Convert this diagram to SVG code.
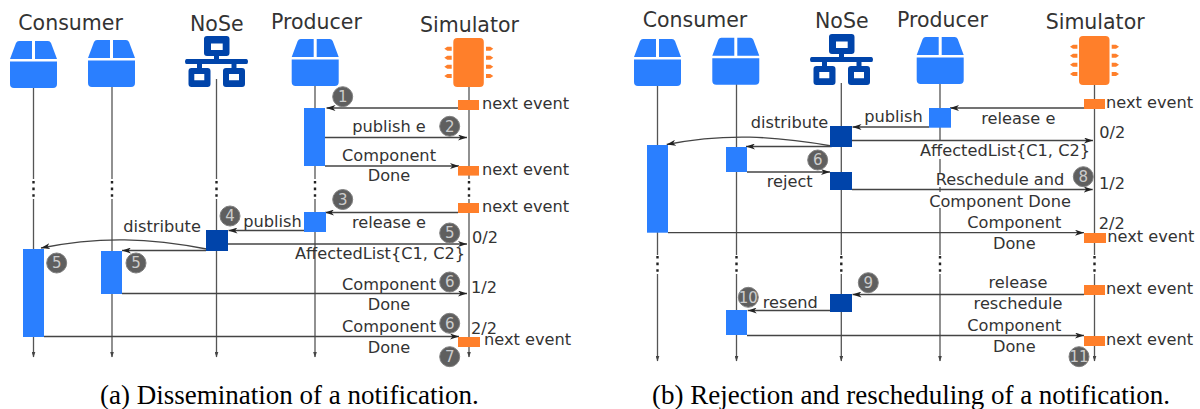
<svg xmlns="http://www.w3.org/2000/svg" width="1200" height="409" viewBox="0 0 1200 409">
<style>
text{font-family:"DejaVu Sans",sans-serif;fill:#333}
.h{font-size:20.5px}
.l{font-size:16.2px}
.m{text-anchor:middle}
.cap{font-family:"Liberation Serif",serif;font-size:27px;fill:#000}
.ln{fill:none;stroke:#444;stroke-width:1.3}
.ll{fill:none;stroke:#555;stroke-width:1.3}
.end{marker-end:url(#tip)}
.arr{marker-end:url(#head)}
.dot{stroke:#222;stroke-width:2.4;stroke-dasharray:2.6 4;fill:none}
.blue{fill:#2a7fff}
.navy{fill:#0044aa}
.org{fill:#ff7f2a}
.b circle{fill:#5f5f5f;stroke:#808080;stroke-width:1}
.b text{font-size:15px;fill:#ccc;text-anchor:middle}
</style>
<defs>
<marker id="head" markerUnits="userSpaceOnUse" viewBox="0 0 9 6" refX="9" refY="3" markerWidth="9" markerHeight="6" orient="auto"><path d="M9 3L0 0L2.500 3L0 6Z" fill="#222"/></marker>
<marker id="tip" markerUnits="userSpaceOnUse" viewBox="0 0 4 6" refX="2" refY="5.500" markerWidth="4" markerHeight="6" orient="0"><path d="M0 0H4L2 6Z" fill="#444"/></marker>
<g id="box"><path class="blue" d="M0 18L6 2Q7 0 9 0H22V18ZM25 0H38Q40 0 41 2L47 18H25ZM0 20.500H47V43Q47 47 43 47H4Q0 47 0 43Z"/></g>
<g id="net"><path class="navy" fill-rule="evenodd" d="M22 0H41.500Q44.500 0 44.500 3V17Q44.500 20 41.500 20H34V23H61.500Q63 23 63 25.500Q63 28 61.500 28H51.500V32H57Q60 32 60 35V48Q60 51 57 51H41Q38 51 38 48V35Q38 32 41 32H46.500V28H17V32H22.500Q25.500 32 25.500 35V48Q25.500 51 22.500 51H6.500Q3.500 51 3.500 48V35Q3.500 32 6.500 32H12V28H1.500Q0 28 0 25.500Q0 23 1.500 23H29V20H22Q19 20 19 17V3Q19 0 22 0ZM26 7.500V14H37.700V7.500ZM9.300 38V44.300H19.300V38ZM44 38V44.300H54V38Z"/></g>
<g id="chip"><rect class="org" x="9" y="0" width="30.500" height="49" rx="4"/><path class="org" d="M0 10.700L3 8.700H7.400V12.700H3ZM0 19.700L3 17.700H7.400V21.700H3ZM0 28.700L3 26.700H7.400V30.700H3ZM0 38L3 36H7.400V40H3ZM49 10.700L46 8.700H41.700V12.700H46ZM49 19.700L46 17.700H41.700V21.700H46ZM49 28.700L46 26.700H41.700V30.700H46ZM49 38L46 36H41.700V40H46Z"/></g>
</defs>

<g id="connectors">
<path class="ll" d="M33.500 88V179"/><path class="ll end" d="M33.500 199V357"/>
<path class="ll" d="M112 87V179"/><path class="ll end" d="M112 199V357"/>
<path class="ll" d="M216.500 79V179"/><path class="ll end" d="M216.500 199V357"/>
<path class="ll" d="M315 86V179"/><path class="ll end" d="M315 199V357"/>
<path class="ll" d="M469 87V179"/><path class="ll end" d="M469 199V357"/>
<path class="dot" d="M33.500 181V198M112 181V198M216.500 181V198M315 181V198M469 181V198"/>
<path class="ln arr" d="M458 108H326.500"/>
<path class="ln arr" d="M325 137.500H467"/>
<path class="ln arr" d="M325 166H459"/>
<path class="ln arr" d="M458 212.500H325"/>
<path class="ln arr" d="M304 230.500H228.500"/>
<path class="ln arr" d="M228 244H467"/>
<path class="ln arr" d="M206.500 249C150 238 100 236 41 248"/>
<path class="ln arr" d="M206 250.500H122"/>
<path class="ln arr" d="M122 293.500H467"/>
<path class="ln arr" d="M44 336.500H459"/>

<path class="ll" d="M657.500 86V255M736.500 84V255M841.300 83V255M940 84V141M940 159V173M940 187V192M940 208V255M1094.500 84V255"/>
<path class="ll end" d="M657.500 274V361"/><path class="ll end" d="M736.500 274V361"/><path class="ll end" d="M841.300 274V361"/><path class="ll end" d="M940 274V361"/><path class="ll end" d="M1094.500 274V361"/>
<path class="dot" d="M657.500 256V273M736.500 256V273M841.300 256V273M940 256V273M1094.500 256V273"/>
<path class="ln arr" d="M1084 108H950"/>
<path class="ln arr" d="M929 127H852.500"/>
<path class="ln arr" d="M852 140.500H1093"/>
<path class="ln arr" d="M831.700 146C775 136 725 133 666.700 144.500"/>
<path class="ln arr" d="M831.700 146.500H746"/>
<path class="ln arr" d="M747 172H830"/>
<path class="ln arr" d="M852 189.500H1092.700"/>
<path class="ln arr" d="M668 232.700H1084"/>
<path class="ln arr" d="M1084 294.500H852.500"/>
<path class="ln arr" d="M830 310.500H747.700"/>
<path class="ln arr" d="M747 335.500H1084"/>
</g>

<g id="consumer-a"><text class="h" x="18.300" y="30">Consumer</text><use href="#box" x="10" y="41"/><use href="#box" x="88" y="40"/></g>
<g id="nose-a"><text class="h" x="190" y="31">NoSe</text><use href="#net" x="185" y="36"/></g>
<g id="producer-a"><text class="h" x="271" y="28.700">Producer</text><use href="#box" x="291.700" y="39"/></g>
<g id="simulator-a"><text class="h" x="420" y="32">Simulator</text><use href="#chip" x="444.300" y="38"/></g>

<g id="consumer-b"><text class="h" x="642.700" y="26.700">Consumer</text><use href="#box" x="634" y="39"/><use href="#box" x="712.300" y="37.700"/></g>
<g id="nose-b"><text class="h" x="815" y="28">NoSe</text><use href="#net" x="810" y="34"/></g>
<g id="producer-b"><text class="h" x="897" y="26.700">Producer</text><use href="#box" x="916.700" y="37"/></g>
<g id="simulator-b"><text class="h" x="1045.700" y="29">Simulator</text><use href="#chip" x="1070" y="36"/></g>

<g id="activations-a">
<rect class="blue" x="304" y="108" width="21" height="58"/>
<rect class="blue" x="304" y="212" width="22" height="20"/>
<rect class="navy" x="206" y="230" width="22" height="21"/>
<rect class="blue" x="101" y="251" width="21" height="43"/>
<rect class="blue" x="23" y="249" width="21" height="88"/>
<rect class="org" x="458" y="100" width="21" height="10"/>
<rect class="org" x="458" y="166" width="21" height="9.600"/>
<rect class="org" x="458" y="203" width="21" height="10"/>
<rect class="org" x="458" y="337" width="22" height="10"/>
</g>
<g id="activations-b">
<rect class="blue" x="929" y="108" width="22" height="19.700"/>
<rect class="navy" x="830" y="126" width="22" height="21"/>
<rect class="navy" x="830" y="172" width="22" height="18"/>
<rect class="navy" x="830" y="294" width="22" height="18"/>
<rect class="blue" x="647" y="145" width="21" height="87.700"/>
<rect class="blue" x="726" y="147" width="21" height="25"/>
<rect class="blue" x="726" y="310" width="21" height="25"/>
<rect class="org" x="1084" y="99" width="21" height="10"/>
<rect class="org" x="1084" y="233" width="22" height="10"/>
<rect class="org" x="1084" y="285" width="21" height="10"/>
<rect class="org" x="1084" y="336" width="21" height="10"/>
</g>

<g id="labels-a">
<text class="l" x="482" y="108.700">next event</text>
<text class="l" x="482" y="175">next event</text>
<text class="l" x="482" y="211.700">next event</text>
<text class="l" x="484" y="345">next event</text>
<text class="l m" x="389" y="132.300">publish e</text>
<text class="l m" x="389" y="161.300">Component</text>
<text class="l m" x="389" y="181">Done</text>
<text class="l m" x="389" y="228">release e</text>
<text class="l" x="472" y="243">0/2</text>
<text class="l" x="295" y="259">AffectedList{C1, C2}</text>
<text class="l m" x="389" y="290">Component</text>
<text class="l m" x="389" y="310">Done</text>
<text class="l" x="471" y="293">1/2</text>
<text class="l m" x="389" y="332.300">Component</text>
<text class="l m" x="389" y="353">Done</text>
<text class="l" x="471" y="334">2/2</text>
<text class="l" x="123.300" y="231.700">distribute</text>
<text class="l" x="243.300" y="226.700">publish</text>
</g>
<g id="labels-b">
<text class="l" x="1106" y="107.700">next event</text>
<text class="l m" x="1018.300" y="124">release e</text>
<text class="l" x="864.300" y="122.300">publish</text>
<text class="l" x="750.700" y="128.300">distribute</text>
<text class="l" x="920" y="155.700">AffectedList{C1, C2}</text>
<text class="l" x="1099.300" y="138.300">0/2</text>
<text class="l" x="766.700" y="186.700">reject</text>
<text class="l m" x="1000" y="185">Reschedule and</text>
<text class="l m" x="1000" y="207">Component Done</text>
<text class="l" x="1099" y="189">1/2</text>
<text class="l m" x="1014.300" y="227.700">Component</text>
<text class="l m" x="1014.300" y="249.300">Done</text>
<text class="l" x="1098.700" y="229.300">2/2</text>
<text class="l" x="1107.300" y="241.700">next event</text>
<text class="l m" x="1018" y="288">release</text>
<text class="l m" x="1018" y="309.300">reschedule</text>
<text class="l" x="1106" y="294">next event</text>
<text class="l" x="762.700" y="307.700">resend</text>
<text class="l m" x="1014.300" y="330.700">Component</text>
<text class="l m" x="1014.300" y="351.700">Done</text>
<text class="l" x="1106" y="345">next event</text>
</g>

<g id="badges" class="b">
<circle cx="342.700" cy="96.700" r="10"/><text x="342.700" y="102">1</text>
<circle cx="449.700" cy="126.300" r="10"/><text x="449.700" y="131.600">2</text>
<circle cx="342.700" cy="199.500" r="10"/><text x="342.700" y="204.800">3</text>
<circle cx="230" cy="216" r="10"/><text x="230" y="221.300">4</text>
<circle cx="449.700" cy="233" r="10"/><text x="449.700" y="238.300">5</text>
<circle cx="56.700" cy="263" r="10"/><text x="56.700" y="268.300">5</text>
<circle cx="136" cy="263" r="10"/><text x="136" y="268.300">5</text>
<circle cx="449.700" cy="282" r="10"/><text x="449.700" y="287.300">6</text>
<circle cx="449.700" cy="323.300" r="10"/><text x="449.700" y="328.600">6</text>
<circle cx="449.700" cy="356.700" r="10"/><text x="449.700" y="362">7</text>
<circle cx="817.700" cy="160" r="10"/><text x="817.700" y="165.300">6</text>
<circle cx="1083.300" cy="176.700" r="10"/><text x="1083.300" y="182">8</text>
<circle cx="868.300" cy="282.700" r="10"/><text x="868.300" y="288">9</text>
<circle cx="748.300" cy="297.300" r="10"/><text x="748.300" y="302.600">10</text>
<circle cx="1079" cy="356.700" r="10"/><text x="1079" y="362">11</text>
</g>

<text class="cap" x="100" y="404">(a) Dissemination of a notification.</text>
<text class="cap" x="652" y="404">(b) Rejection and rescheduling of a notification.</text>
</svg>
